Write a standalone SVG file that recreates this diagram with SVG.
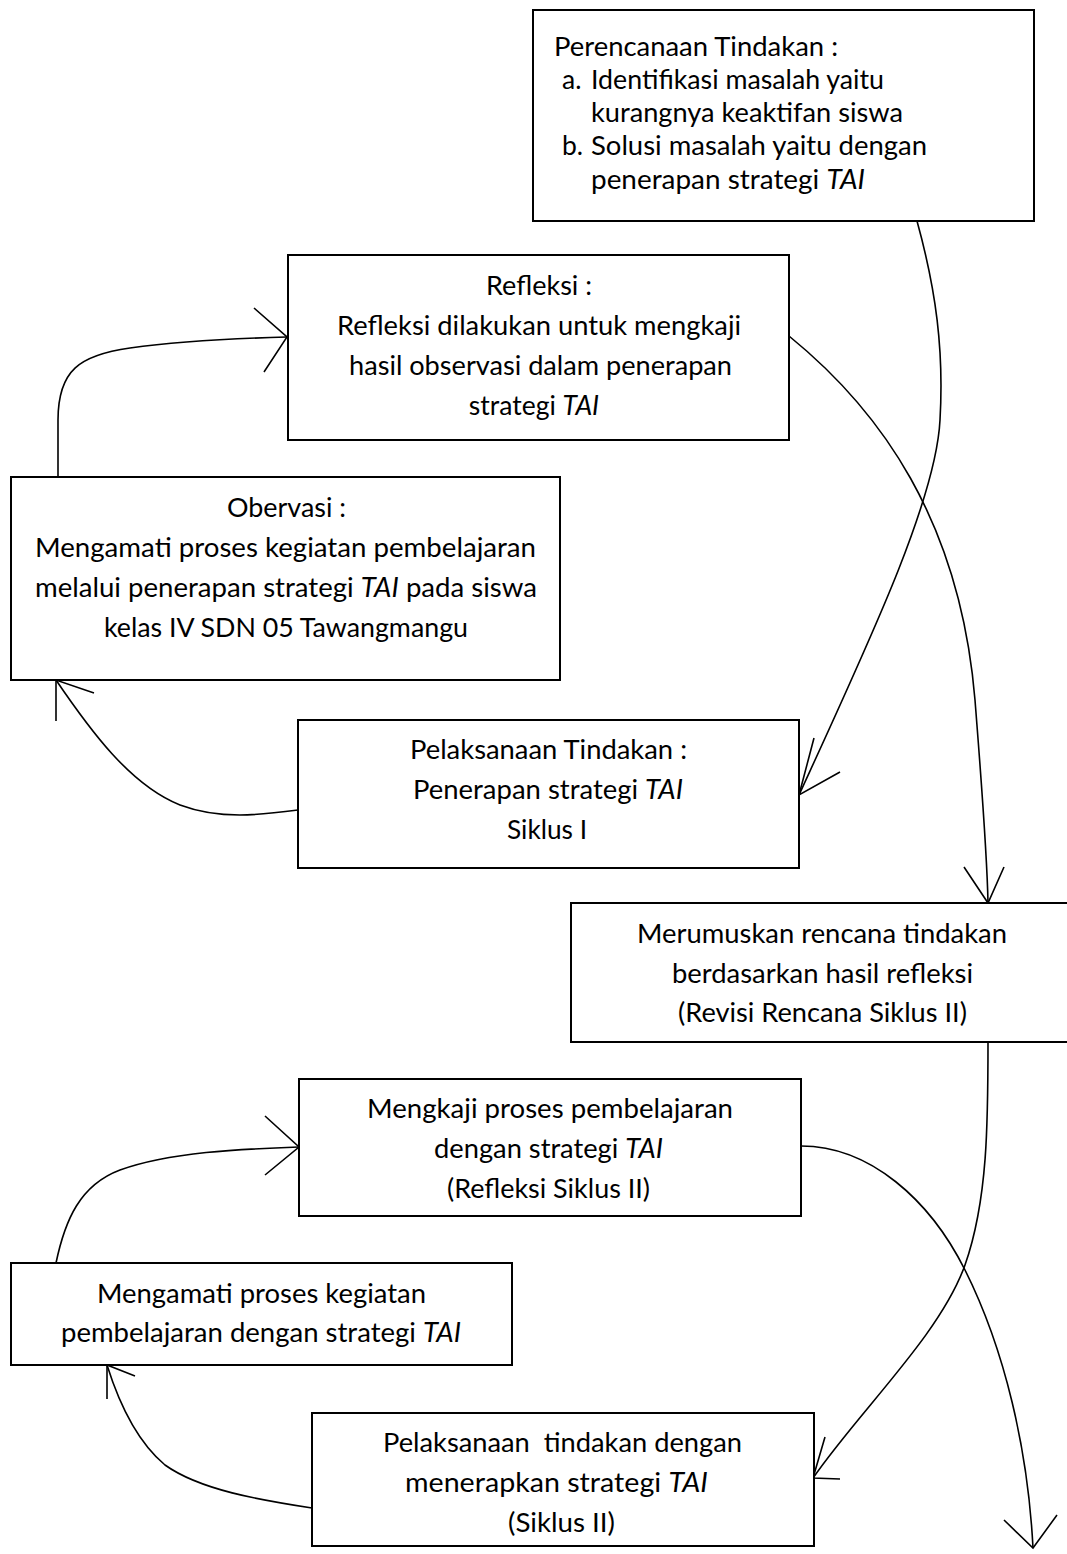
<svg xmlns="http://www.w3.org/2000/svg" width="1067" height="1554" viewBox="0 0 1067 1554">
<style>
.box{fill:#ffffff;stroke:#000000;stroke-width:2}
.t{font-family:Lato,"Open Sans","Liberation Sans",sans-serif;font-size:26.5px;fill:#000000}
.m{text-anchor:middle}
.i{font-style:italic}
.c{fill:none;stroke:#000000;stroke-width:1.6}
</style>
<rect width="1067" height="1554" fill="#ffffff"/>
<g id="connectors">
<path class="c" d="M917,221 C936,290 944,350 940,420 C936,500 870,640 799,795"/>
<path class="c" d="M814,738 L799,795 L840,772"/>
<path class="c" d="M789,336 C880,410 960,520 975,700 C982,790 987,850 988,903"/>
<path class="c" d="M964,867 L988,903 L1004,867"/>
<path class="c" d="M58,477 L58,420 C58,370 80,355 130,348 C180,341 250,338 287,337"/>
<path class="c" d="M254,308 L287,337 L264,372"/>
<path class="c" d="M298,810 C260,815 220,820 180,805 C130,785 90,730 56,680"/>
<path class="c" d="M94,693 L56,680 L56,721"/>
<path class="c" d="M988,1042 C988,1120 988,1200 965,1265 C940,1335 860,1410 813,1478"/>
<path class="c" d="M825,1437 L813,1478 L840,1479"/>
<path class="c" d="M801,1146 C870,1146 930,1200 965,1270 C1005,1350 1028,1450 1033,1548"/>
<path class="c" d="M1004,1520 L1033,1548 L1057,1515"/>
<path class="c" d="M56,1263 C65,1220 80,1185 120,1170 C170,1152 240,1149 299,1147"/>
<path class="c" d="M265,1116 L299,1147 L265,1175"/>
<path class="c" d="M312,1508 C260,1500 200,1490 165,1465 C135,1440 118,1400 107,1365"/>
<path class="c" d="M135,1376 L107,1365 L107,1399"/>
</g>
<g id="perencanaan">
<rect class="box" x="533" y="10" width="501" height="211"/>
<text class="t" x="554" y="56" textLength="284" lengthAdjust="spacingAndGlyphs">Perencanaan Tindakan :</text>
<text class="t" x="562" y="89">a.</text>
<text class="t" x="591" y="89" textLength="293" lengthAdjust="spacingAndGlyphs">Identifikasi masalah yaitu</text>
<text class="t" x="591" y="122" textLength="312" lengthAdjust="spacingAndGlyphs">kurangnya keaktifan siswa</text>
<text class="t" x="562" y="155">b.</text>
<text class="t" x="591" y="155" textLength="336" lengthAdjust="spacingAndGlyphs">Solusi masalah yaitu dengan</text>
<text class="t" x="591" y="189" textLength="274" lengthAdjust="spacingAndGlyphs">penerapan strategi <tspan class="i">TAI</tspan></text>
</g>
<g id="refleksi">
<rect class="box" x="288" y="255" width="501" height="185"/>
<text class="t" x="486" y="295" textLength="106" lengthAdjust="spacingAndGlyphs">Refleksi :</text>
<text class="t" x="337" y="335" textLength="404" lengthAdjust="spacingAndGlyphs">Refleksi dilakukan untuk mengkaji</text>
<text class="t" x="349" y="375" textLength="383" lengthAdjust="spacingAndGlyphs">hasil observasi dalam penerapan</text>
<text class="t m" x="534" y="415">strategi <tspan class="i">TAI</tspan></text>
</g>
<g id="observasi">
<rect class="box" x="11" y="477" width="549" height="203"/>
<text class="t" x="227" y="517" textLength="119" lengthAdjust="spacingAndGlyphs">Obervasi :</text>
<text class="t" x="35" y="557" textLength="501" lengthAdjust="spacingAndGlyphs">Mengamati proses kegiatan pembelajaran</text>
<text class="t" x="35" y="597" textLength="502" lengthAdjust="spacingAndGlyphs">melalui penerapan strategi <tspan class="i">TAI</tspan> pada siswa</text>
<text class="t" x="104" y="637" textLength="364" lengthAdjust="spacingAndGlyphs">kelas IV SDN 05 Tawangmangu</text>
</g>
<g id="pelaksanaan1">
<rect class="box" x="298" y="720" width="501" height="148"/>
<text class="t" x="410" y="759" textLength="277" lengthAdjust="spacingAndGlyphs">Pelaksanaan Tindakan :</text>
<text class="t" x="413" y="799" textLength="270" lengthAdjust="spacingAndGlyphs">Penerapan strategi <tspan class="i">TAI</tspan></text>
<text class="t" x="507" y="839" textLength="80" lengthAdjust="spacingAndGlyphs">Siklus I</text>
</g>
<g id="merumuskan">
<rect class="box" x="571" y="903" width="510" height="139"/>
<text class="t" x="637" y="943" textLength="370" lengthAdjust="spacingAndGlyphs">Merumuskan rencana tindakan</text>
<text class="t" x="672" y="983" textLength="301" lengthAdjust="spacingAndGlyphs">berdasarkan hasil refleksi</text>
<text class="t" x="678" y="1022" textLength="289" lengthAdjust="spacingAndGlyphs">(Revisi Rencana Siklus II)</text>
</g>
<g id="mengkaji">
<rect class="box" x="299" y="1079" width="502" height="137"/>
<text class="t" x="367" y="1118" textLength="366" lengthAdjust="spacingAndGlyphs">Mengkaji proses pembelajaran</text>
<text class="t" x="434" y="1158" textLength="229" lengthAdjust="spacingAndGlyphs">dengan strategi <tspan class="i">TAI</tspan></text>
<text class="t" x="447" y="1198" textLength="203" lengthAdjust="spacingAndGlyphs">(Refleksi Siklus II)</text>
</g>
<g id="mengamati">
<rect class="box" x="11" y="1263" width="501" height="102"/>
<text class="t" x="97" y="1303" textLength="329" lengthAdjust="spacingAndGlyphs">Mengamati proses kegiatan</text>
<text class="t" x="61" y="1342" textLength="400" lengthAdjust="spacingAndGlyphs">pembelajaran dengan strategi <tspan class="i">TAI</tspan></text>
</g>
<g id="pelaksanaan2">
<rect class="box" x="312" y="1413" width="502" height="133"/>
<text class="t" x="383" y="1452" textLength="359" lengthAdjust="spacingAndGlyphs" xml:space="preserve">Pelaksanaan  tindakan dengan</text>
<text class="t" x="405" y="1492" textLength="303" lengthAdjust="spacingAndGlyphs">menerapkan strategi <tspan class="i">TAI</tspan></text>
<text class="t" x="508" y="1532" textLength="107" lengthAdjust="spacingAndGlyphs">(Siklus II)</text>
</g>
</svg>
